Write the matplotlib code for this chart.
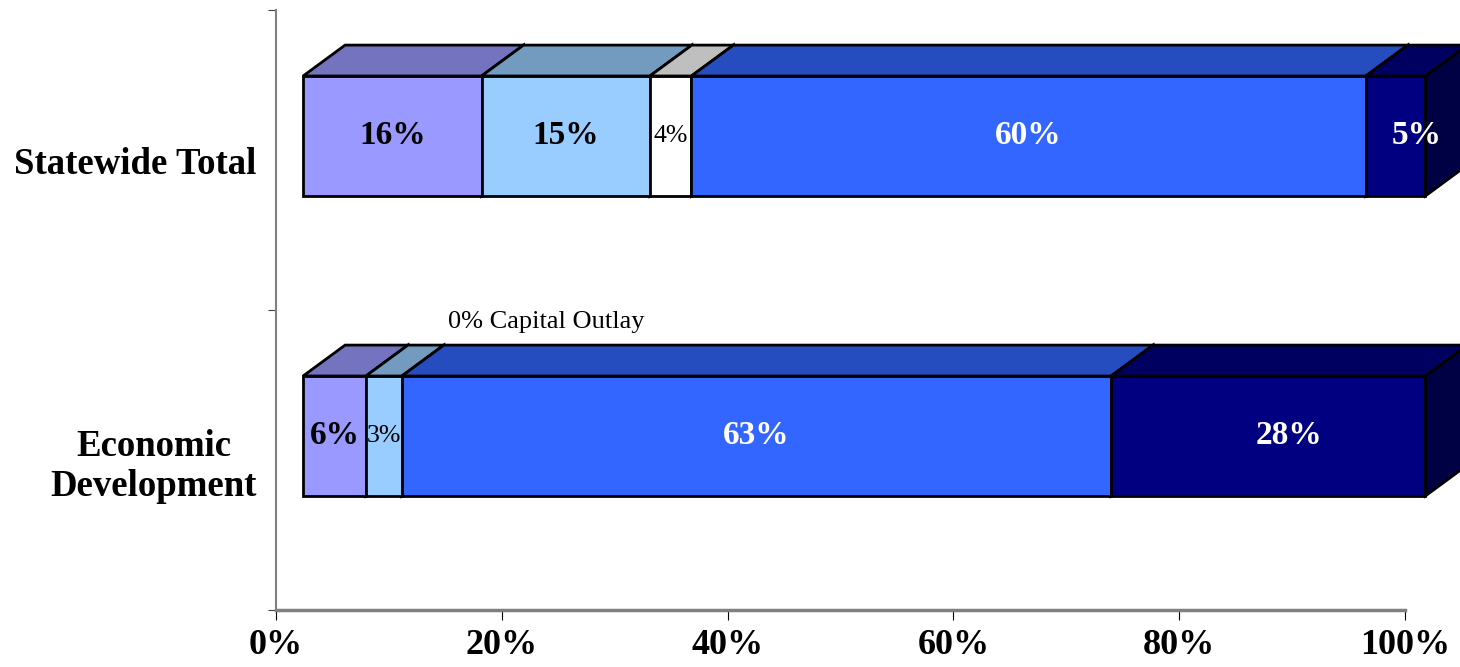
"""
3D-style stacked horizontal bars: share of spending by type
"""

import matplotlib
matplotlib.use('Agg')
import matplotlib.pyplot as plt
from matplotlib.patches import Polygon

plt.rcParams['font.family'] = ['Liberation Serif', 'DejaVu Serif']

# data (bottom to top)
categories = ['Economic\nDevelopment', 'Statewide Total']
segments = ['Segment 1', 'Segment 2', 'Capital Outlay', 'Segment 4', 'Segment 5']
econ_dev = [5.6, 3.2, 0.0, 63.2, 28.0]
statewide = [15.9, 15.0, 3.7, 60.1, 5.3]
x_ticks = [0, 20, 40, 60, 80, 100]
x_tick_labels = ['0%', '20%', '40%', '60%', '80%', '100%']

front_colors = ['#9999FF', '#99CCFF', '#FFFFFF', '#3366FF', '#000080']
top_colors = ['#7373BF', '#739ABF', '#BFBFBF', '#264DBF', '#000060']
side_color = '#000045'
label_colors = ['black', 'black', 'black', 'white', 'white']

fig = plt.figure(figsize=(14.6, 6.67), dpi=100)
ax = fig.add_axes([276 / 1460, 57 / 667, 1129 / 1460, 600 / 667])
ax.set_xlim(0, 100)
ax.set_ylim(0, 2)

# 3D look: front face shift, depth offset (data units)
x_shift = 2.4
x_scale = 0.994
depth_x = 3.72
depth_y = 0.103
bar_h = 0.4
y_shift = 0.08

rows = [econ_dev, statewide]
for i, values in enumerate(rows):
    yc = i + 0.5 + y_shift
    yb, yt = yc - bar_h / 2, yc + bar_h / 2
    left = 0.0
    n = len(values)
    last = max(j for j in range(n) if values[j] > 0)
    for j, v in enumerate(values):
        if v <= 0:
            continue
        x0 = x_shift + left * x_scale
        x1 = x_shift + (left + v) * x_scale
        z = 2 + j
        front = Polygon([(x0, yb), (x1, yb), (x1, yt), (x0, yt)],
                        closed=True, fc=front_colors[j], ec='black', lw=2,
                        zorder=z, clip_on=False)
        top = Polygon([(x0, yt), (x1, yt), (x1 + depth_x, yt + depth_y),
                       (x0 + depth_x, yt + depth_y)],
                      closed=True, fc=top_colors[j], ec='black', lw=2,
                      zorder=z, clip_on=False)
        side = Polygon([(x1, yb), (x1 + depth_x, yb + depth_y),
                        (x1 + depth_x, yt + depth_y), (x1, yt)],
                       closed=True, fc=side_color, ec='black', lw=2,
                       zorder=z, clip_on=False)
        for p in (side, front, top):
            ax.add_patch(p)

        if j == last:
            xc = (x0 + x1 + depth_x) / 2
        else:
            xc = (x0 + x1) / 2
        if v >= 5:
            ax.text(xc, yc, '{:.0f}%'.format(v), ha='center', va='center',
                    fontsize=24, fontweight='bold', color=label_colors[j],
                    zorder=20)
        else:
            ax.text(xc, yc, '{:.0f}%'.format(v), ha='center', va='center',
                    fontsize=18.5, color=label_colors[j], zorder=20)
        left += v

# label for the empty capital outlay segment
ax.text(23.9, 0.96, '{:.0f}% {}'.format(econ_dev[2], segments[2]),
        ha='center', va='center', fontsize=19, zorder=20)

# axes styling
ax.spines['top'].set_visible(False)
ax.spines['right'].set_visible(False)
ax.spines['left'].set_color('#808080')
ax.spines['left'].set_linewidth(1.5)
ax.spines['bottom'].set_color('#808080')
ax.spines['bottom'].set_linewidth(2.5)

ax.set_xticks(x_ticks)
ax.set_xticklabels(x_tick_labels, fontsize=26, fontweight='bold')
ax.tick_params(axis='x', direction='out', length=7.5, width=0.8,
               color='black', pad=6)

ax.set_yticks([0, 1, 2])
ax.set_yticklabels([])
ax.tick_params(axis='y', which='major', direction='out', length=6,
               width=0.8, color='#404040')
ax.set_yticks([0.5, 1.5], minor=True)
ax.set_yticklabels(categories, minor=True, fontsize=26.5, fontweight='bold',
                   multialignment='center')
ax.tick_params(axis='y', which='minor', length=0, pad=14)

fig.savefig('out.png', dpi=100)
